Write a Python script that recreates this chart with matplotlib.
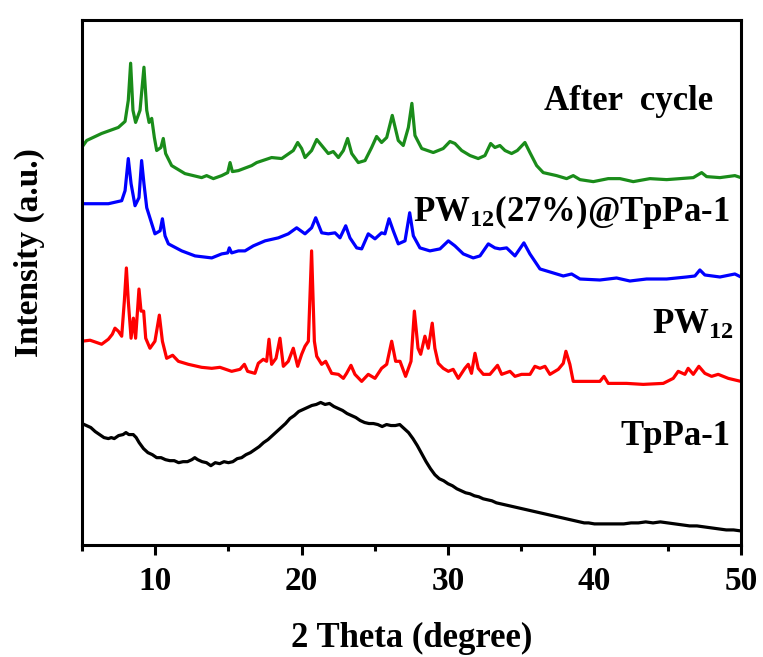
import matplotlib
matplotlib.use("Agg")
import matplotlib.pyplot as plt
from matplotlib.ticker import MultipleLocator

plt.rcParams["font.family"] = ["Liberation Serif", "DejaVu Serif"]
plt.rcParams["font.weight"] = "bold"
plt.rcParams["mathtext.default"] = "regular"

# XRD patterns, already stacked (a.u.)
tppa_x = [5.0, 5.3, 5.6, 5.9, 6.2, 6.5, 6.8, 7.0, 7.2, 7.5, 7.8, 8.0, 8.2, 8.5, 8.7,
          8.9, 9.2, 9.5, 9.8, 10.1, 10.4, 10.7, 11.0, 11.3, 11.6, 11.9, 12.2, 12.5,
          12.7, 12.9, 13.2, 13.5, 13.8, 14.1, 14.4, 14.7, 15.0, 15.3, 15.6, 15.9, 16.2,
          16.5, 16.8, 17.1, 17.4, 17.7, 18.0, 18.3, 18.6, 18.9, 19.2, 19.5, 19.8, 20.1,
          20.4, 20.7, 21.0, 21.3, 21.6, 21.9, 22.2, 22.5, 22.8, 23.1, 23.4, 23.7, 24.0,
          24.3, 24.6, 24.9, 25.2, 25.5, 25.8, 26.1, 26.4, 26.7, 27.0, 27.3, 27.6, 27.9,
          28.2, 28.5, 28.8, 29.1, 29.4, 29.7, 30.0, 30.3, 30.6, 30.9, 31.2, 31.5, 31.8,
          32.1, 32.4, 32.7, 33.0, 33.3, 33.6, 33.9, 34.2, 34.5, 34.8, 35.1, 35.4, 35.7,
          36.0, 36.3, 36.6, 36.9, 37.2, 37.5, 37.8, 38.1, 38.4, 38.7, 39.0, 39.3, 39.6,
          40.0, 40.5, 41.0, 41.5, 42.0, 42.5, 43.0, 43.5, 44.0, 44.5, 45.0, 45.5, 46.0,
          46.5, 47.0, 47.5, 48.0, 48.5, 49.0, 49.5, 50.0]
tppa_y = [121, 119, 117, 113, 110, 107, 106, 107, 106, 109, 110, 112, 110, 110, 107,
          102, 96, 92, 90, 87, 87, 85, 84, 84, 82, 83, 83, 85,
          87, 85, 83, 82, 79, 82, 81, 83, 82, 83, 86, 87, 90,
          92, 95, 98, 102, 105, 109, 113, 117, 121, 126, 129, 133, 135,
          137, 139, 140, 142, 140, 141, 138, 136, 134, 131, 129, 127, 124,
          122, 121, 121, 120, 118, 120, 119, 119, 120, 116, 112, 106, 99,
          91, 83, 76, 70, 66, 64, 61, 59, 56, 54, 52, 51, 49,
          48, 46, 45, 44, 42, 41, 40, 39, 38, 37, 36, 35, 34,
          33, 32, 31, 30, 29, 28, 27, 26, 25, 24, 23, 22, 22,
          21, 21, 21, 21, 21, 22, 22, 23, 22, 23, 22, 21, 20,
          19, 19, 18, 17, 16, 15, 15, 14]

pw12_x = [4.98, 5.55, 6.34, 6.8, 7.07, 7.25, 7.48, 7.71, 7.89, 8.03, 8.16, 8.35, 8.51,
          8.66, 8.89, 9.03, 9.21, 9.35, 9.64, 9.98, 10.28, 10.49, 10.78, 11.19, 11.58,
          12.26, 13.17, 13.86, 14.42, 15.22, 15.79, 16.09, 16.31, 16.81, 17.04, 17.38,
          17.61, 17.77, 17.95, 18.25, 18.52, 18.75, 19.09, 19.43, 19.73, 20.0, 20.23,
          20.46, 20.68, 20.87, 21.03, 21.37, 21.64, 22.05, 22.51, 22.85, 23.07, 23.37,
          23.64, 24.1, 24.55, 25.01, 25.46, 25.81, 26.15, 26.42, 26.72, 27.1, 27.47,
          27.7, 27.95, 28.13, 28.42, 28.65, 28.92, 29.1, 29.33, 29.67, 30.02, 30.35,
          30.7, 31.15, 31.38, 31.6, 31.84, 32.06, 32.41, 32.86, 33.38, 33.66, 34.23,
          34.57, 35.02, 35.6, 35.93, 36.28, 36.62, 36.96, 37.53, 37.87, 38.05, 38.32,
          38.55, 39.46, 40.37, 40.65, 40.94, 42.19, 43.33, 44.7, 45.38, 45.72, 46.18,
          46.4, 46.75, 47.13, 47.54, 48.0, 48.45, 49.14, 50.0]
pw12_y = [203, 204, 200, 205, 210, 216, 213, 208, 243, 276, 243, 206, 226,
          206, 255, 233, 233, 206, 196, 203, 229, 203, 186, 189, 183,
          180, 177, 176, 177, 173, 175, 180, 173, 171, 181, 185,
          183, 205, 180, 186, 206, 178, 183, 196, 178, 190, 198,
          203, 293, 203, 188, 180, 183, 171, 170, 166, 171, 179,
          170, 163, 170, 166, 176, 180, 203, 183, 183, 168, 183,
          233, 196, 190, 208, 196, 221, 196, 181, 176, 173, 175,
          166, 176, 180, 171, 191, 176, 170, 170, 179, 170, 173,
          168, 170, 170, 178, 176, 178, 170, 175, 181, 193, 180,
          163, 163, 163, 168, 161, 161, 160, 161, 166, 173, 170,
          176, 170, 178, 171, 168, 170, 166, 163]

comp_x = [4.98, 5.89, 6.8, 7.71, 7.94, 8.16, 8.35, 8.62, 8.89, 9.07, 9.23, 9.42, 9.98,
          10.33, 10.49, 10.67, 10.9, 11.81, 12.72, 13.86, 14.54, 14.95, 15.06, 15.22,
          15.68, 16.13, 16.7, 17.5, 18.41, 19.09, 19.66, 20.23, 20.68, 20.96, 21.37,
          21.82, 22.28, 22.62, 23.01, 23.3, 23.76, 24.1, 24.55, 25.01, 25.46, 25.69,
          25.97, 26.26, 26.6, 27.06, 27.38, 27.63, 28.08, 28.76, 29.45, 30.02, 30.47,
          31.04, 31.72, 32.18, 32.75, 33.2, 33.54, 34.0, 34.57, 35.18, 35.59, 36.28,
          37.19, 37.87, 38.44, 39.01, 40.37, 41.51, 42.42, 43.56, 44.93, 46.29, 46.86,
          47.2, 47.54, 48.57, 49.59, 50.0]
comp_y = [340, 340, 340, 343, 353, 385, 360, 338, 346, 383, 360, 336, 310,
          313, 325, 308, 300, 293, 288, 286, 290, 291, 296, 291,
          293, 293, 298, 303, 306, 310, 316, 310, 316, 326, 311,
          310, 311, 306, 318, 306, 296, 295, 310, 305, 311, 310,
          325, 313, 300, 303, 331, 308, 296, 293, 295, 303, 298,
          290, 286, 288, 300, 296, 295, 296, 288, 301, 290, 275,
          271, 268, 270, 265, 264, 266, 263, 265, 265, 267, 268,
          274, 269, 267, 270, 267]

after_x = [4.98, 5.32, 6.34, 7.48, 7.94, 8.16, 8.32, 8.48, 8.66, 8.96, 9.23, 9.42, 9.58,
           9.76, 9.94, 10.1, 10.39, 10.55, 10.71, 11.12, 12.03, 13.17, 13.51, 13.97,
           14.54, 14.95, 15.11, 15.27, 15.68, 16.59, 16.93, 17.95, 18.64, 19.43, 19.73,
           20.0, 20.23, 20.68, 21.03, 21.37, 21.82, 22.16, 22.51, 22.85, 23.14, 23.42,
           23.87, 24.33, 24.78, 25.12, 25.46, 25.81, 26.19, 26.6, 26.94, 27.29, 27.53,
           27.74, 28.2, 28.99, 29.67, 30.13, 30.47, 30.93, 31.5, 32.06, 32.52, 32.91,
           33.2, 33.54, 33.89, 34.34, 34.73, 35.25, 35.59, 36.05, 36.5, 37.41, 38.1,
           38.55, 39.01, 39.92, 40.94, 41.74, 42.65, 43.79, 44.93, 45.84, 46.75, 47.32,
           47.66, 48.57, 49.59, 50.0]
after_y = [396, 403, 410, 416, 422, 443, 480, 433, 421, 433, 476, 433, 421,
           425, 406, 393, 396, 405, 390, 378, 370, 366, 368, 365,
           368, 371, 381, 372, 373, 378, 381, 386, 385, 393, 401,
           395, 386, 393, 404, 398, 390, 392, 386, 393, 405, 390,
           381, 383, 396, 407, 401, 406, 428, 403, 398, 416, 440,
           408, 395, 391, 395, 402, 400, 393, 388, 385, 388, 400,
           396, 398, 393, 390, 393, 401, 391, 378, 371, 368, 365,
           368, 364, 362, 365, 365, 362, 365, 364, 365, 366, 371,
           367, 366, 368, 366]

series = [
    (tppa_x, tppa_y, "black"),
    (pw12_x, pw12_y, "#ff0000"),
    (comp_x, comp_y, "#0000ff"),
    (after_x, after_y, "#1a8c1a"),
]

fig = plt.figure(figsize=(7.63, 6.57), dpi=100)
ax = fig.add_axes([0.1075, 0.1705, 0.8635, 0.7990])

for xs, ys, c in series:
    ax.plot(xs, ys, color=c, lw=2.3)

ax.set_xlim(5, 50)
ax.set_ylim(0, 523)
ax.xaxis.set_major_locator(MultipleLocator(10))
ax.xaxis.set_minor_locator(MultipleLocator(5))
ax.set_yticks([])
ax.tick_params(axis="x", which="major", direction="out", length=7, width=2.2,
               labelsize=24, pad=8)
ax.tick_params(axis="x", which="minor", direction="out", length=4, width=2.2)
for s in ax.spines.values():
    s.set_linewidth(2.2)

ax.set_xlabel("2 Theta (degree)", fontsize=25, fontweight="bold", labelpad=18)
ax.set_ylabel("Intensity (a.u.)", fontsize=24, fontweight="bold")
ax.yaxis.set_label_coords(-0.056, 0.558)

lab = dict(fontsize=25, fontweight="bold", ha="center", va="baseline")
ax.text(42.35, 433, "After  cycle", **lab)
ax.text(38.43, 323, "PW$_{12}$(27%)@TpPa-1", **lab)
ax.text(46.7, 210, "PW$_{12}$", **lab)
ax.text(45.53, 100, "TpPa-1", **lab)

fig.savefig("out.png", dpi=100)
